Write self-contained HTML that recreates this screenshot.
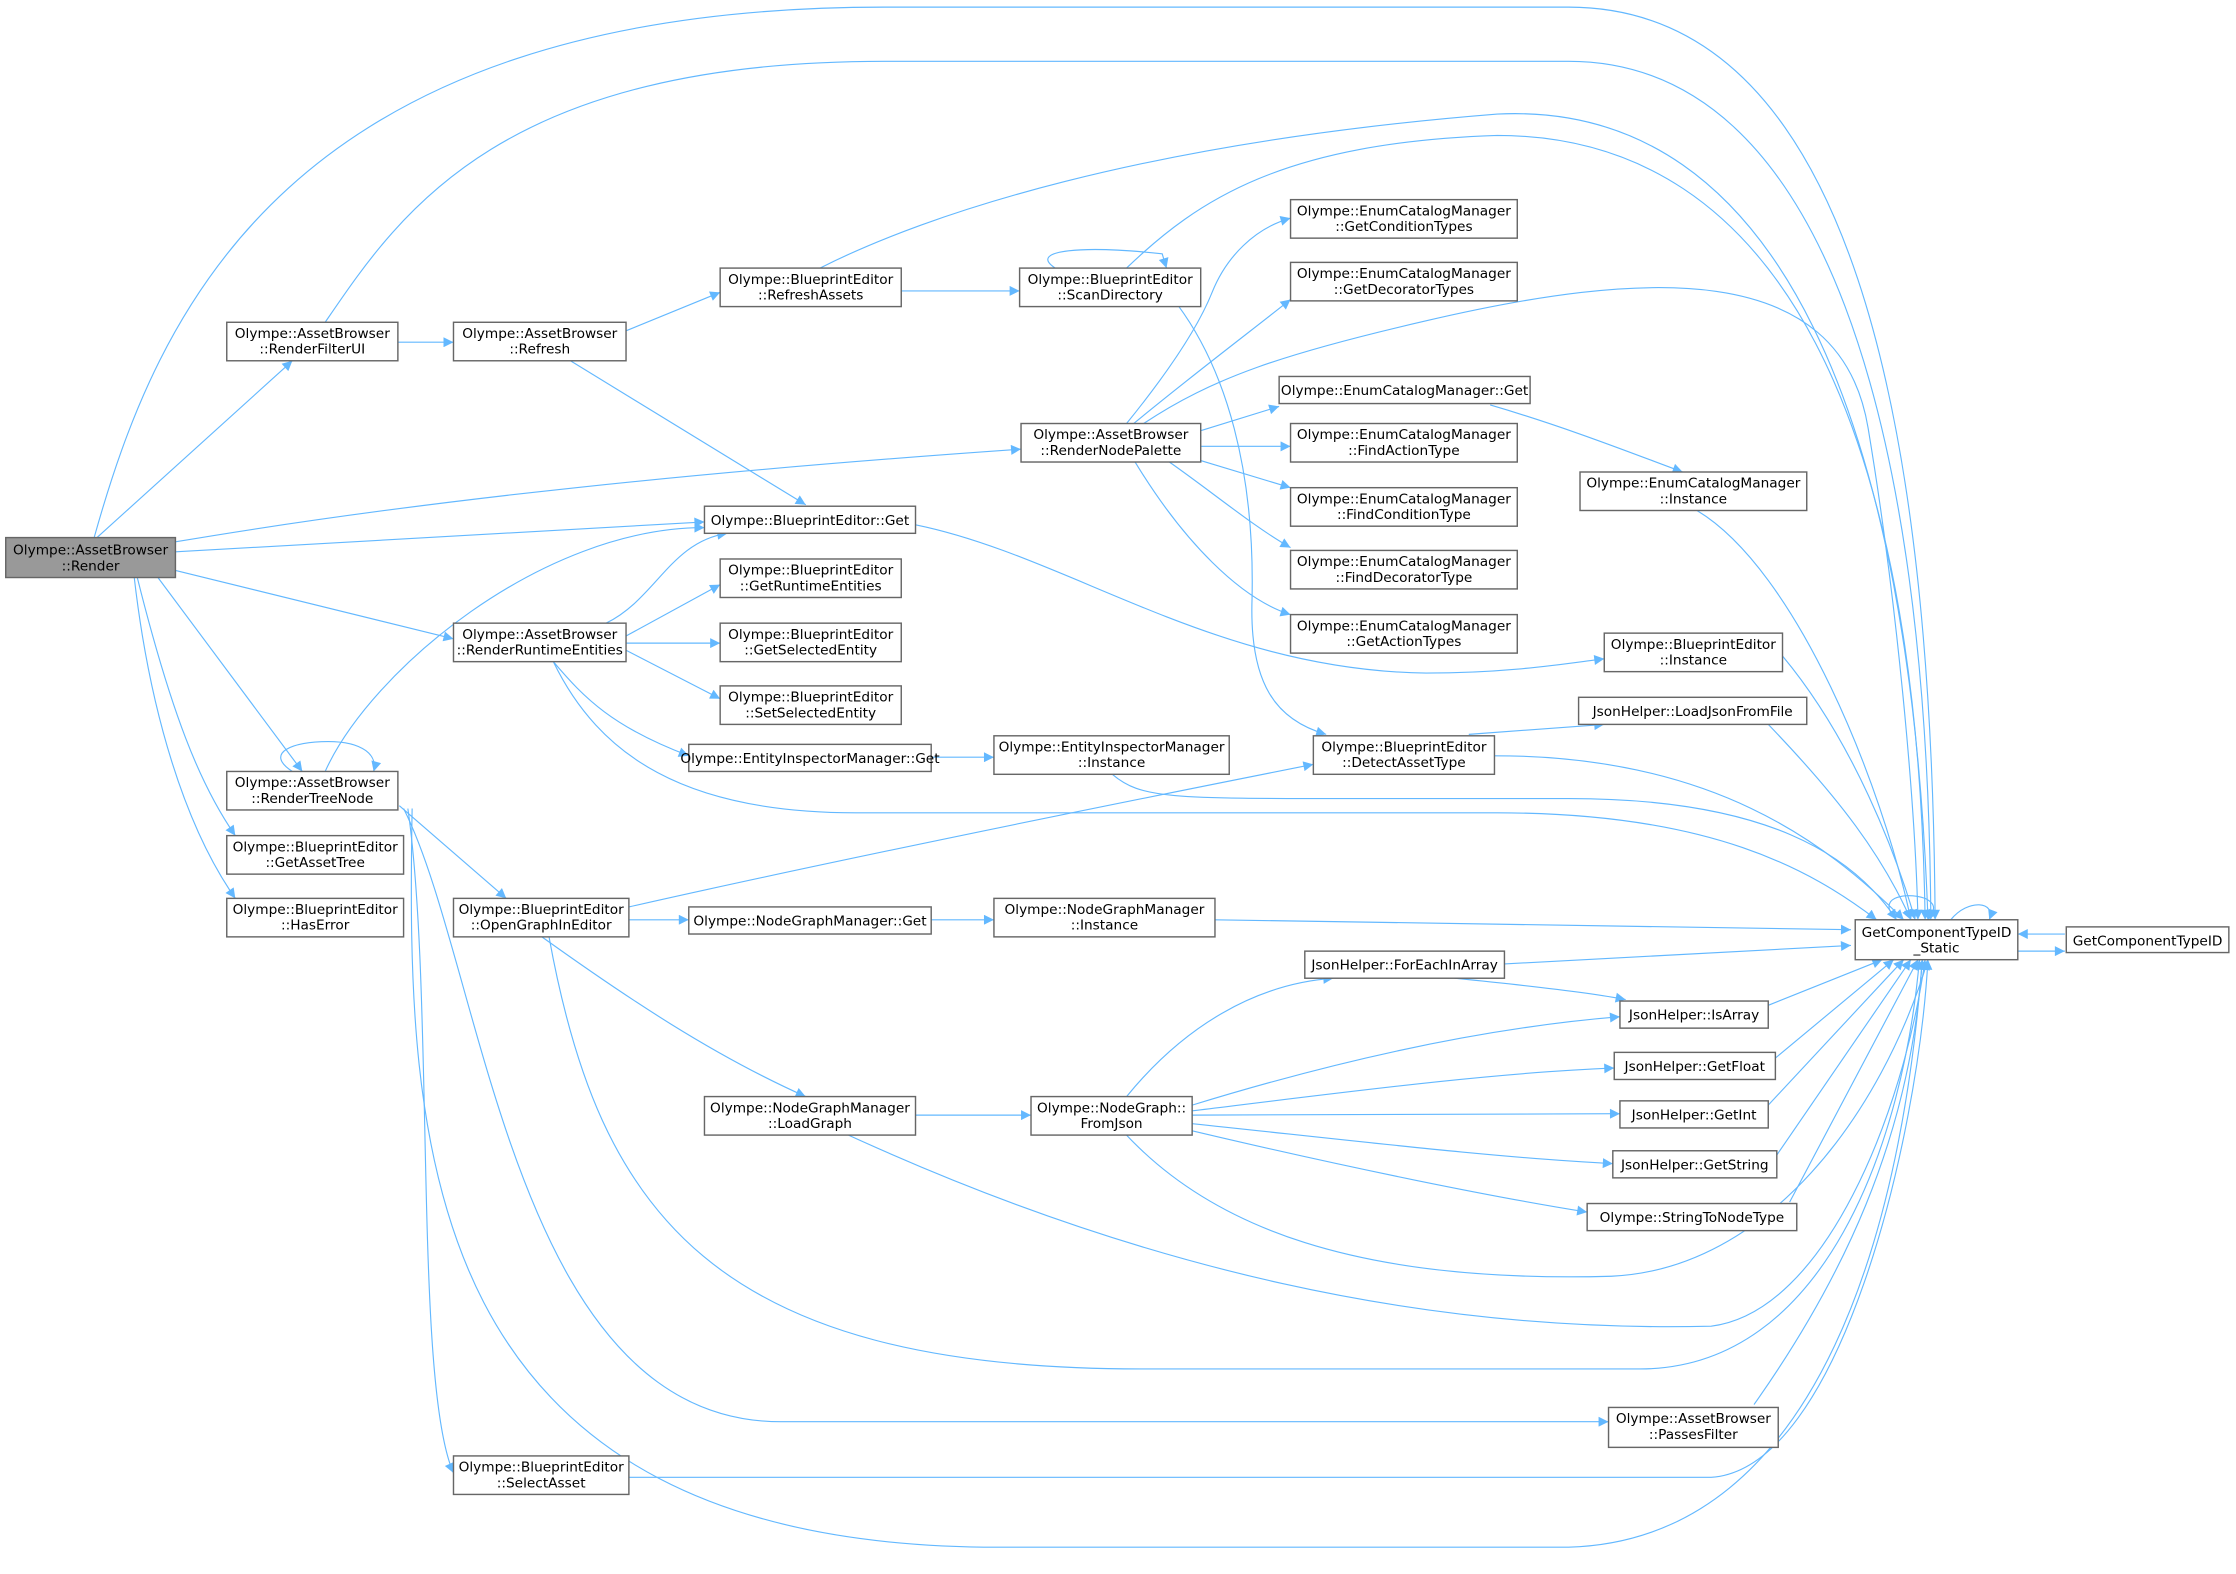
<!DOCTYPE html>
<html><head><meta charset="utf-8"><style>
html,body{margin:0;padding:0;background:#fff;}
svg{display:block;}
text{font-family:"DejaVu Sans","Liberation Sans",sans-serif;font-size:9.6px;fill:#000;text-anchor:middle;}
.n{fill:#fff;stroke:#666;stroke-width:1;}
.e{fill:none;stroke:#63b8ff;stroke-width:0.8;}
</style></head><body>
<svg width="2236" height="1574" viewBox="0 0 1568 1103.8" xmlns="http://www.w3.org/2000/svg">
<defs><marker id="a" viewBox="0 0 10 10" refX="10" refY="5" markerWidth="9" markerHeight="7" markerUnits="userSpaceOnUse" orient="auto"><path d="M0,0 L10,5 L0,10 z" fill="#63b8ff"/></marker></defs>
<g class="e" marker-end="url(#a)">
<path d="M66,377 C110,220 200,5 620,5 L1100,5 C1300,5 1355,300 1357,645"/>
<path d="M68,377 L205,253"/>
<path d="M123,380 C300,350 500,330 716,315"/>
<path d="M123,387 L494,366"/>
<path d="M123,400 L318,448"/>
<path d="M110,404 L212,541"/>
<path d="M96,404 C120,500 140,550 165,586"/>
<path d="M94,404 C105,500 130,580 165,630"/>
<path d="M228,226 C280,150 350,43 620,43 L1100,43 C1280,43 1352,300 1354,645"/>
<path d="M279,240 L318,240"/>
<path d="M439,232 L505,205"/>
<path d="M400,253 L565,354"/>
<path d="M632,204 L715,204"/>
<path d="M575,188 C650,150 800,100 1050,80 C1250,70 1340,300 1352,645"/>
<path d="M740,188 C720,175 760,172 815,178 L818,188"/>
<path d="M790,188 C840,140 900,100 1050,95 C1250,95 1345,300 1350,645"/>
<path d="M826,214 C860,260 880,330 878,420 C876,480 895,505 930,515"/>
<path d="M790,297 C820,260 840,230 850,205 C860,180 880,160 905,153"/>
<path d="M795,297 C840,260 880,230 905,210"/>
<path d="M802,297 C850,265 900,248 1000,225 C1150,190 1290,180 1310,300 C1330,420 1343,560 1345,645"/>
<path d="M842,302 L897,285"/>
<path d="M842,313 L905,313"/>
<path d="M842,323 L905,342"/>
<path d="M820,324 C850,345 880,370 905,384"/>
<path d="M796,324 C830,380 870,420 905,431"/>
<path d="M1045,284 C1100,300 1150,320 1180,331"/>
<path d="M1190,358 C1260,400 1320,550 1340,645"/>
<path d="M642,368 C750,390 850,470 1000,472 C1060,472 1100,465 1125,462"/>
<path d="M1250,460 C1300,520 1330,600 1343,645"/>
<path d="M425,437 C460,420 470,380 510,374"/>
<path d="M439,446 L505,410"/>
<path d="M439,451 L505,451"/>
<path d="M439,456 L505,490"/>
<path d="M388,464 C410,490 430,510 483,530"/>
<path d="M388,464 C420,530 480,570 600,570 L1050,570 C1200,570 1270,610 1316,645"/>
<path d="M653,531 L697,531"/>
<path d="M780,543 C800,560 820,560 950,560 L1100,560 C1240,560 1300,600 1330,645"/>
<path d="M1240,508 C1290,560 1320,600 1340,645"/>
<path d="M1030,515 L1125,508"/>
<path d="M1048,530 C1200,530 1280,590 1335,645"/>
<path d="M205,541 C185,528 205,520 230,520 C255,520 265,530 262,541"/>
<path d="M228,541 C260,470 380,370 494,370"/>
<path d="M280,565 L355,630"/>
<path d="M283,567 C340,680 360,1000 550,997 L1128,997"/>
<path d="M286,567 C305,700 290,970 318,1033"/>
<path d="M289,567 C285,800 290,1085 700,1085 L1100,1085 C1280,1080 1335,850 1348,673"/>
<path d="M441,636 C600,600 800,560 921,536"/>
<path d="M441,645 L483,645"/>
<path d="M380,657 C440,700 500,740 565,769"/>
<path d="M385,657 C420,850 500,960 800,960 L1150,960 C1280,960 1335,800 1346,673"/>
<path d="M653,645 L697,645"/>
<path d="M852,645 L1298,652"/>
<path d="M642,782 L723,782"/>
<path d="M595,796 C800,890 1000,935 1200,930 C1280,920 1335,780 1350,673"/>
<path d="M790,769 C830,720 880,690 935,686"/>
<path d="M836,775 C950,740 1050,720 1136,713"/>
<path d="M836,779 C950,765 1050,752 1132,749"/>
<path d="M836,782 L1136,781"/>
<path d="M836,788 C950,800 1050,812 1131,816"/>
<path d="M836,793 C950,820 1050,840 1113,850"/>
<path d="M790,796 C850,860 950,900 1130,895 C1240,890 1320,780 1352,673"/>
<path d="M1055,676 L1298,663"/>
<path d="M1020,686 C1080,692 1120,697 1140,701"/>
<path d="M1240,705 L1320,673"/>
<path d="M1245,742 L1328,673"/>
<path d="M1240,775 L1335,673"/>
<path d="M1246,810 L1340,673"/>
<path d="M1255,843 L1345,673"/>
<path d="M1230,985 C1290,900 1340,800 1348,673"/>
<path d="M441,1036 L1200,1036 C1290,1030 1345,800 1352,673"/>
<path d="M1330,645 C1315,630 1335,625 1350,630 C1360,635 1355,640 1352,645"/>
<path d="M1368,645 C1380,630 1400,632 1395,645"/>
<path d="M1448,655 L1415,655"/>
<path d="M1415,667 L1448,667"/>
</g>
<g>
<rect x="4" y="377" width="119" height="28" fill="#999" stroke="#666"/>
<text x="63.5" y="389">Olympe::AssetBrowser</text><text x="63.5" y="400">::Render</text>
<rect class="n" x="159" y="226" width="120" height="27"/><text x="219" y="237">Olympe::AssetBrowser</text><text x="219" y="248">::RenderFilterUI</text>
<rect class="n" x="318" y="226" width="121" height="27"/><text x="378.5" y="237">Olympe::AssetBrowser</text><text x="378.5" y="248">::Refresh</text>
<rect class="n" x="505" y="188" width="127" height="27"/><text x="568.5" y="199">Olympe::BlueprintEditor</text><text x="568.5" y="210">::RefreshAssets</text>
<rect class="n" x="715" y="188" width="127" height="27"/><text x="778.5" y="199">Olympe::BlueprintEditor</text><text x="778.5" y="210">::ScanDirectory</text>
<rect class="n" x="905" y="140" width="159" height="27"/><text x="984.5" y="151">Olympe::EnumCatalogManager</text><text x="984.5" y="162">::GetConditionTypes</text>
<rect class="n" x="905" y="184" width="159" height="27"/><text x="984.5" y="195">Olympe::EnumCatalogManager</text><text x="984.5" y="206">::GetDecoratorTypes</text>
<rect class="n" x="716" y="297" width="126" height="27"/><text x="779" y="308">Olympe::AssetBrowser</text><text x="779" y="319">::RenderNodePalette</text>
<rect class="n" x="897" y="264" width="176" height="19"/><text x="985" y="277">Olympe::EnumCatalogManager::Get</text>
<rect class="n" x="905" y="297" width="159" height="27"/><text x="984.5" y="308">Olympe::EnumCatalogManager</text><text x="984.5" y="319">::FindActionType</text>
<rect class="n" x="905" y="342" width="159" height="27"/><text x="984.5" y="353">Olympe::EnumCatalogManager</text><text x="984.5" y="364">::FindConditionType</text>
<rect class="n" x="905" y="386" width="159" height="27"/><text x="984.5" y="397">Olympe::EnumCatalogManager</text><text x="984.5" y="408">::FindDecoratorType</text>
<rect class="n" x="905" y="431" width="159" height="27"/><text x="984.5" y="442">Olympe::EnumCatalogManager</text><text x="984.5" y="453">::GetActionTypes</text>
<rect class="n" x="1108" y="331" width="159" height="27"/><text x="1187.5" y="342">Olympe::EnumCatalogManager</text><text x="1187.5" y="353">::Instance</text>
<rect class="n" x="494" y="355" width="148" height="19"/><text x="568" y="368">Olympe::BlueprintEditor::Get</text>
<rect class="n" x="505" y="392" width="127" height="27"/><text x="568.5" y="403">Olympe::BlueprintEditor</text><text x="568.5" y="414">::GetRuntimeEntities</text>
<rect class="n" x="505" y="437" width="127" height="27"/><text x="568.5" y="448">Olympe::BlueprintEditor</text><text x="568.5" y="459">::GetSelectedEntity</text>
<rect class="n" x="505" y="481" width="127" height="27"/><text x="568.5" y="492">Olympe::BlueprintEditor</text><text x="568.5" y="503">::SetSelectedEntity</text>
<rect class="n" x="318" y="437" width="121" height="27"/><text x="378.5" y="448">Olympe::AssetBrowser</text><text x="378.5" y="459">::RenderRuntimeEntities</text>
<rect class="n" x="1125" y="444" width="125" height="27"/><text x="1187.5" y="455">Olympe::BlueprintEditor</text><text x="1187.5" y="466">::Instance</text>
<rect class="n" x="1107" y="489" width="160" height="19"/><text x="1187" y="502">JsonHelper::LoadJsonFromFile</text>
<rect class="n" x="483" y="522" width="170" height="19"/><text x="568" y="535">Olympe::EntityInspectorManager::Get</text>
<rect class="n" x="697" y="516" width="165" height="27"/><text x="779.5" y="527">Olympe::EntityInspectorManager</text><text x="779.5" y="538">::Instance</text>
<rect class="n" x="921" y="516" width="127" height="27"/><text x="984.5" y="527">Olympe::BlueprintEditor</text><text x="984.5" y="538">::DetectAssetType</text>
<rect class="n" x="159" y="541" width="120" height="27"/><text x="219" y="552">Olympe::AssetBrowser</text><text x="219" y="563">::RenderTreeNode</text>
<rect class="n" x="159" y="586" width="124" height="27"/><text x="221" y="597">Olympe::BlueprintEditor</text><text x="221" y="608">::GetAssetTree</text>
<rect class="n" x="159" y="630" width="124" height="27"/><text x="221" y="641">Olympe::BlueprintEditor</text><text x="221" y="652">::HasError</text>
<rect class="n" x="318" y="630" width="123" height="27"/><text x="379.5" y="641">Olympe::BlueprintEditor</text><text x="379.5" y="652">::OpenGraphInEditor</text>
<rect class="n" x="483" y="636" width="170" height="19"/><text x="568" y="649">Olympe::NodeGraphManager::Get</text>
<rect class="n" x="697" y="630" width="155" height="27"/><text x="774.5" y="641">Olympe::NodeGraphManager</text><text x="774.5" y="652">::Instance</text>
<rect class="n" x="1301" y="645" width="114" height="28"/><text x="1358" y="657">GetComponentTypeID</text><text x="1358" y="668">_Static</text>
<rect class="n" x="1449" y="650" width="114" height="18"/><text x="1506" y="663">GetComponentTypeID</text>
<rect class="n" x="915" y="667" width="140" height="19"/><text x="985" y="680">JsonHelper::ForEachInArray</text>
<rect class="n" x="1136" y="702" width="104" height="19"/><text x="1188" y="715">JsonHelper::IsArray</text>
<rect class="n" x="1132" y="738" width="113" height="19"/><text x="1188.5" y="751">JsonHelper::GetFloat</text>
<rect class="n" x="1136" y="772" width="104" height="19"/><text x="1188" y="785">JsonHelper::GetInt</text>
<rect class="n" x="1131" y="807" width="115" height="19"/><text x="1188.5" y="820">JsonHelper::GetString</text>
<rect class="n" x="1113" y="844" width="147" height="19"/><text x="1186.5" y="857">Olympe::StringToNodeType</text>
<rect class="n" x="494" y="769" width="148" height="27"/><text x="568" y="780">Olympe::NodeGraphManager</text><text x="568" y="791">::LoadGraph</text>
<rect class="n" x="723" y="769" width="113" height="27"/><text x="779.5" y="780">Olympe::NodeGraph::</text><text x="779.5" y="791">FromJson</text>
<rect class="n" x="1128" y="987" width="119" height="28"/><text x="1187.5" y="998">Olympe::AssetBrowser</text><text x="1187.5" y="1009">::PassesFilter</text>
<rect class="n" x="318" y="1021" width="123" height="27"/><text x="379.5" y="1032">Olympe::BlueprintEditor</text><text x="379.5" y="1043">::SelectAsset</text>
</g>
</svg>
</body></html>
